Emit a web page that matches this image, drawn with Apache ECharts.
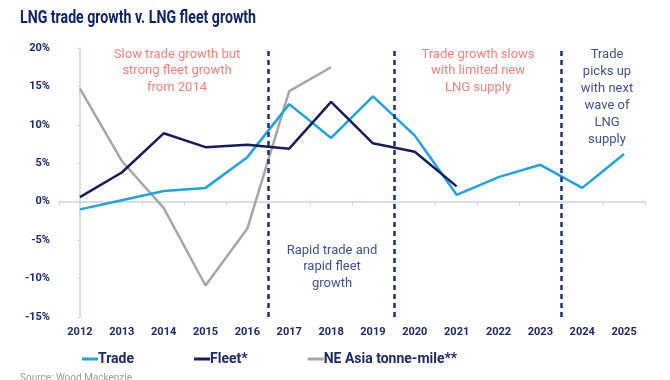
<!DOCTYPE html>
<html><head><meta charset="utf-8">
<script src="https://cdn.jsdelivr.net/npm/echarts@6/dist/echarts.min.js"></script>
<style>html,body{margin:0;padding:0;background:#fff}#c{width:670px;height:380px}</style>
</head><body><div id="c"></div>
<script>
var years = ['2012','2013','2014','2015','2016','2017','2018','2019','2020','2021','2022','2023','2024','2025'];
var trade = [-1.0, 0.2, 1.4, 1.8, 5.8, 12.7, 8.3, 13.7, 8.6, 0.9, 3.2, 4.8, 1.8, 6.2];
var fleet = [0.6, 3.8, 8.9, 7.1, 7.4, 6.9, 13.0, 7.6, 6.5, 2.0, null, null, null, null];
var neAsia = [14.7, 5.3, -0.8, -10.9, -3.5, 14.4, 17.5, null, null, null, null, null, null, null];
var periodBreaks = [4.5, 7.5, 11.5];
var seriesNames = ['Trade', 'Fleet*', 'NE Asia tonne-mile**'];

var titleText = 'LNG trade growth v. LNG fleet growth';
var titleFont = 'bold 18px Roboto';
var cv = document.createElement('canvas').getContext('2d');
cv.font = titleFont;
var titleScale = 236 / cv.measureText(titleText).width;

var navy = '#1A2A6C';
var chart = echarts.init(document.getElementById('c'));
chart.setOption({
  animation: false,
  backgroundColor: '#ffffff',
  grid: {left: 59, right: 25, top: 48, bottom: 63},
  legend: {
    left: 77, top: 347, itemGap: 60, itemWidth: 16, itemHeight: 3, icon: 'rect',
    textStyle: {fontFamily: 'Roboto', fontWeight: 'bold', fontSize: 14, color: '#1A2A6C', padding: [0,0,0,-5]},
    data: seriesNames
  },
  xAxis: [
    {type: 'category', data: years, boundaryGap: true,
     axisLine: {onZero: true, lineStyle: {color: '#C9D3E6', width: 1.5}},
     axisTick: {show: true, length: 4, lineStyle: {color: '#C9D3E6'}},
     axisLabel: {show: false}, splitLine: {show: false}},
    {type: 'category', data: years, boundaryGap: true, position: 'bottom',
     axisLine: {show: false}, axisTick: {show: false},
     axisLabel: {margin: 10, fontFamily: 'Roboto', fontWeight: 'bold', fontSize: 11, color: navy}},
    {type: 'value', min: -0.5, max: 13.5, show: false}
  ],
  yAxis: {
    type: 'value', min: -15, max: 20, interval: 5,
    axisLine: {show: true, lineStyle: {color: '#C9D3E6', width: 1.5}},
    axisTick: {show: true, length: 3, lineStyle: {color: '#C9D3E6'}},
    splitLine: {show: false},
    axisLabel: {formatter: '{value}%', margin: 9, fontFamily: 'Roboto', fontWeight: 'bold', fontSize: 11, color: navy}
  },
  series: [
    {name: seriesNames[0], type: 'line', data: trade, xAxisIndex: 0, symbol: 'none', z: 4,
     lineStyle: {color: '#1EA2E3', width: 2.5}, itemStyle: {color: '#1EA2E3'}},
    {name: seriesNames[1], type: 'line', data: fleet, xAxisIndex: 0, symbol: 'none', z: 5,
     lineStyle: {color: '#141C5E', width: 2.5}, itemStyle: {color: '#141C5E'}},
    {name: seriesNames[2], type: 'line', data: neAsia, xAxisIndex: 0, symbol: 'none', z: 3,
     lineStyle: {color: '#A6A6A6', width: 2.5}, itemStyle: {color: '#A6A6A6'}},
    {type: 'line', xAxisIndex: 2, data: [], silent: true,
     markLine: {symbol: 'none', silent: true, label: {show: false},
       lineStyle: {color: '#1E2F72', width: 2.5, type: [5, 4]},
       data: periodBreaks.map(function (v) { return {xAxis: v}; })}}
  ],
  graphic: [
    {type: 'text', x: 20, y: 9, scaleX: titleScale, style: {text: titleText, font: titleFont, fill: '#0E2170'}},
    {type: 'text', x: 177, y: 46, style: {text: 'Slow trade growth but\nstrong fleet growth\nfrom 2014', align: 'center',
      font: '13px Roboto', fill: '#F4827C', lineHeight: 16.5}},
    {type: 'text', x: 478, y: 46, style: {text: 'Trade growth slows\nwith limited new\nLNG supply', align: 'center',
      font: '13px Roboto', fill: '#F4827C', lineHeight: 16.5}},
    {type: 'text', x: 607, y: 46, style: {text: 'Trade\npicks up\nwith next\nwave of\nLNG\nsupply', align: 'center',
      font: '13px Roboto', fill: '#3E5290', lineHeight: 17}},
    {type: 'text', x: 332, y: 242, style: {text: 'Rapid trade and\nrapid fleet\ngrowth', align: 'center',
      font: '13px Roboto', fill: '#3E5290', lineHeight: 16.5}},
    {type: 'text', x: 20, y: 373, style: {text: 'Source: Wood Mackenzie', font: '10px Roboto', fill: '#9A9A9A'}}
  ]
});
</script></body></html>
